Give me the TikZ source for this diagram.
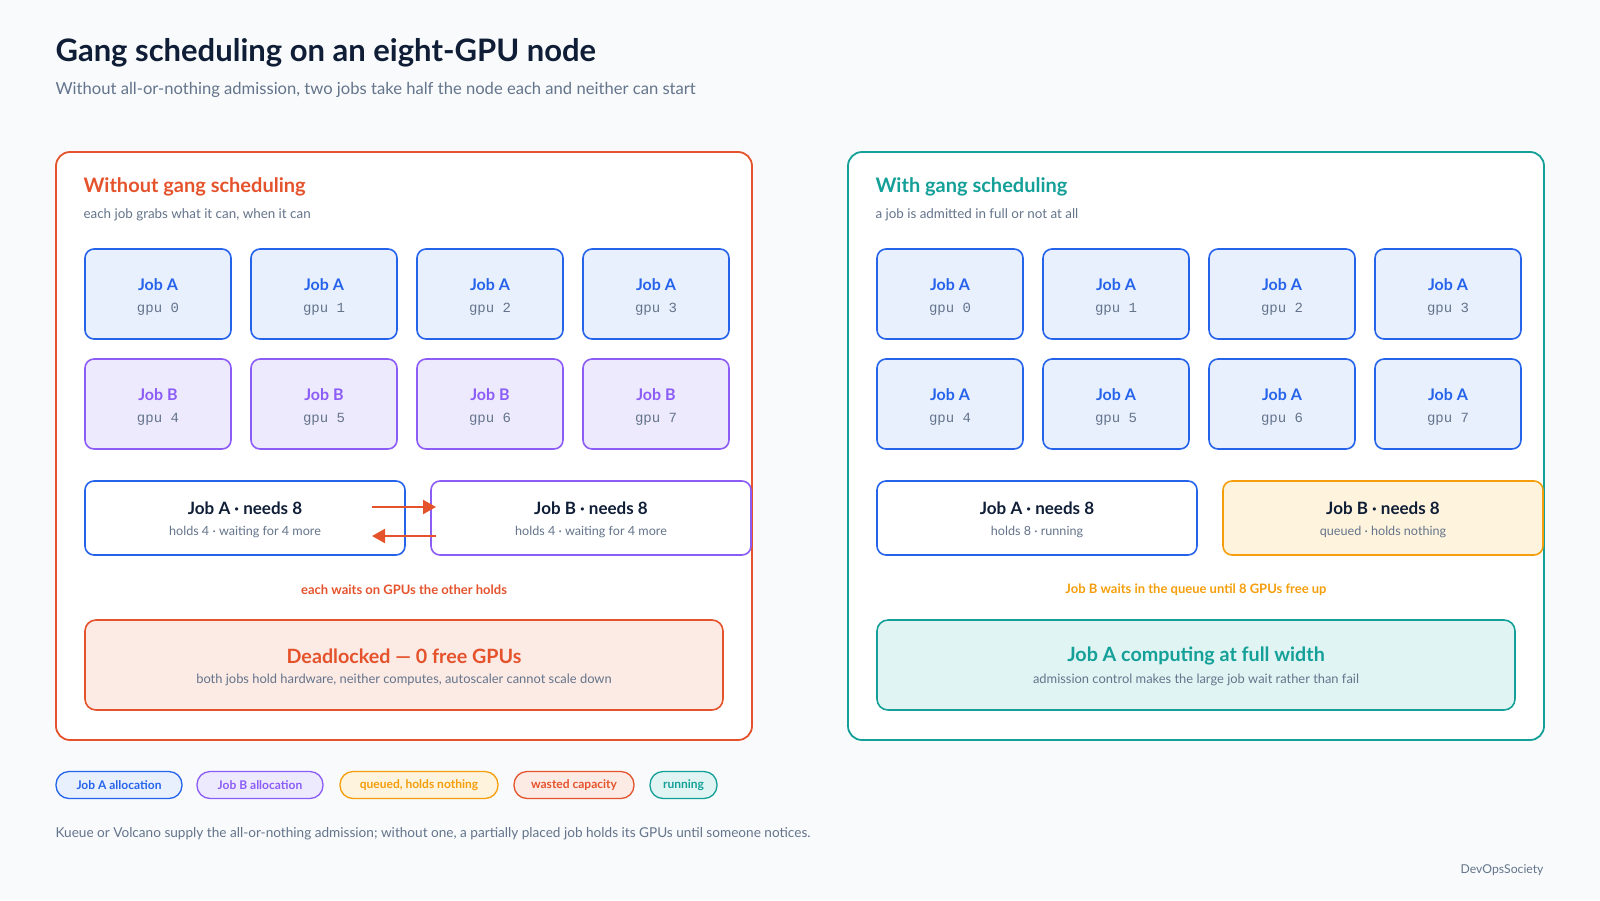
\documentclass[tikz,border=0pt]{standalone}
\usepackage{fontspec}
\setmainfont{Lato}
\newfontfamily\gpumono{Liberation Mono}
\usetikzlibrary{arrows.meta}

\definecolor{pagebg}{HTML}{F8FAFC}
\definecolor{ink}{HTML}{0F1E36}
\definecolor{muted}{HTML}{64748B}
\definecolor{redline}{HTML}{E5532D}
\definecolor{redfill}{HTML}{FCEAE4}
\definecolor{tealline}{HTML}{14A098}
\definecolor{tealfill}{HTML}{E0F5F3}
\definecolor{bluejob}{HTML}{2563EB}
\definecolor{bluefill}{HTML}{E8F0FE}
\definecolor{purplejob}{HTML}{8B5CF6}
\definecolor{purplefill}{HTML}{EEEAFD}
\definecolor{amber}{HTML}{F59E0B}
\definecolor{amberfill}{HTML}{FEF3DC}

\begin{document}
\begin{tikzpicture}[x=1pt, y=-1pt,
    panel/.style={draw=#1, line width=1.8pt, fill=white, rounded corners=14pt},
    gpubox/.style={draw=#1, line width=1.6pt, rounded corners=9pt, minimum width=146pt, minimum height=90pt, inner sep=0pt},
    needbox/.style={draw=#1, line width=1.6pt, rounded corners=9pt, minimum width=320pt, minimum height=74pt, inner sep=0pt},
    resultbox/.style={draw=#1, line width=1.6pt, rounded corners=11pt, minimum width=638pt, minimum height=90pt, inner sep=0pt},
    pill/.style={draw=#1, line width=1.3pt, rounded corners=13pt, minimum height=27pt, inner xsep=0pt, font=\fontsize{12}{14}\selectfont\bfseries, text=#1},
    deadarrow/.style={draw=redline, line width=2.2pt, -{Triangle[length=13pt,width=14pt]}},
]
\useasboundingbox (0,0) rectangle (1600,900);
\fill[pagebg] (0,0) rectangle (1600,900);

% heading
\node[anchor=west, text=ink, font=\fontsize{31}{35}\selectfont\bfseries] (title) at (52,53) {Gang scheduling on an eight-GPU node};
\node[anchor=west, text=muted, font=\fontsize{16.6}{20}\selectfont] (subtitle) at (52,90) {Without all-or-nothing admission, two jobs take half the node each and neither can start};

% the two panels
\draw[panel=redline] (56,152) rectangle (752,740);
\draw[panel=tealline] (848,152) rectangle (1544,740);

\node[anchor=west, text=redline, font=\fontsize{20}{24}\selectfont\bfseries] (lefthead) at (80,187) {Without gang scheduling};
\node[anchor=west, text=muted, font=\fontsize{13.4}{16}\selectfont] (leftsub) at (80,215) {each job grabs what it can, when it can};
\node[anchor=west, text=tealline, font=\fontsize{20}{24}\selectfont\bfseries] (righthead) at (872,187) {With gang scheduling};
\node[anchor=west, text=muted, font=\fontsize{13.4}{16}\selectfont] (rightsub) at (872,215) {a job is admitted in full or not at all};

% eight GPUs per panel
\foreach \i in {0,...,3} {
  \pgfmathsetmacro{\cx}{158+166*\i}
  \pgfmathsetmacro{\rx}{950+166*\i}
  \pgfmathtruncatemacro{\j}{\i+4}
  % left panel: A on top row, B on bottom row
  \node[gpubox=bluejob, fill=bluefill] (lgpu\i) at (\cx,294) {};
  \node[text=bluejob, font=\fontsize{16}{19}\selectfont\bfseries] at (\cx,285) {Job A};
  \node[text=muted, font=\fontsize{14}{16}\selectfont\gpumono] at (\cx,309) {gpu \i};
  \node[gpubox=purplejob, fill=purplefill] (lgpu\j) at (\cx,404) {};
  \node[text=purplejob, font=\fontsize{16}{19}\selectfont\bfseries] at (\cx,395) {Job B};
  \node[text=muted, font=\fontsize{14}{16}\selectfont\gpumono] at (\cx,419) {gpu \j};
  % right panel: all eight go to A
  \node[gpubox=bluejob, fill=bluefill] (rgpu\i) at (\rx,294) {};
  \node[text=bluejob, font=\fontsize{16}{19}\selectfont\bfseries] at (\rx,285) {Job A};
  \node[text=muted, font=\fontsize{14}{16}\selectfont\gpumono] at (\rx,309) {gpu \i};
  \node[gpubox=bluejob, fill=bluefill] (rgpu\j) at (\rx,404) {};
  \node[text=bluejob, font=\fontsize{16}{19}\selectfont\bfseries] at (\rx,395) {Job A};
  \node[text=muted, font=\fontsize{14}{16}\selectfont\gpumono] at (\rx,419) {gpu \j};
}

% what each job needs
\node[needbox=bluejob, fill=white] (lneedA) at (245,518) {};
\node[text=ink, font=\fontsize{17}{20}\selectfont\bfseries] at (245,508) {Job A · needs 8};
\node[text=muted, font=\fontsize{12.6}{15}\selectfont] at (245,532) {holds 4 · waiting for 4 more};
\node[needbox=purplejob, fill=white] (lneedB) at (591,518) {};
\node[text=ink, font=\fontsize{17}{20}\selectfont\bfseries] at (591,508) {Job B · needs 8};
\node[text=muted, font=\fontsize{12.6}{15}\selectfont] at (591,532) {holds 4 · waiting for 4 more};

\node[needbox=bluejob, fill=white] (rneedA) at (1037,518) {};
\node[text=ink, font=\fontsize{17}{20}\selectfont\bfseries] at (1037,508) {Job A · needs 8};
\node[text=muted, font=\fontsize{12.6}{15}\selectfont] at (1037,532) {holds 8 · running};
\node[needbox=amber, fill=amberfill] (rneedB) at (1383,518) {};
\node[text=ink, font=\fontsize{17}{20}\selectfont\bfseries] at (1383,508) {Job B · needs 8};
\node[text=muted, font=\fontsize{12.6}{15}\selectfont] at (1383,532) {queued · holds nothing};

% circular wait
\coordinate (waitAo) at (372,507);
\coordinate (waitBi) at (436,507);
\coordinate (waitBo) at (436,536);
\coordinate (waitAi) at (372,536);
\draw[deadarrow] (waitAo) -- (waitBi);
\draw[deadarrow] (waitBo) -- (waitAi);

\node[text=redline, font=\fontsize{13}{15}\selectfont\bfseries] (leftnote) at (404,590) {each waits on GPUs the other holds};
\node[text=amber, font=\fontsize{13}{15}\selectfont\bfseries] (rightnote) at (1196,590) {Job B waits in the queue until 8 GPUs free up};

% outcome
\node[resultbox=redline, fill=redfill] (deadlock) at (404,665) {};
\node[text=redline, font=\fontsize{19.7}{23}\selectfont\bfseries] at (404,656) {Deadlocked — 0 free GPUs};
\node[text=muted, font=\fontsize{12.9}{15}\selectfont] at (404,680) {both jobs hold hardware, neither computes, autoscaler cannot scale down};
\node[resultbox=tealline, fill=tealfill] (fullwidth) at (1196,665) {};
\node[text=tealline, font=\fontsize{19.7}{23}\selectfont\bfseries] at (1196,656) {Job A computing at full width};
\node[text=muted, font=\fontsize{12.9}{15}\selectfont] at (1196,680) {admission control makes the large job wait rather than fail};

% legend
\node[pill=bluejob, fill=bluefill, minimum width=126pt] (keyA) at (119,785) {Job A allocation};
\node[pill=purplejob, fill=purplefill, minimum width=126pt] (keyB) at (260,785) {Job B allocation};
\node[pill=amber, fill=amberfill, minimum width=158pt] (keyQ) at (419,785) {queued, holds nothing};
\node[pill=redline, fill=redfill, minimum width=120pt] (keyW) at (574,785) {wasted capacity};
\node[pill=tealline, fill=tealfill, minimum width=67pt] (keyR) at (683.5,785) {running};

\node[anchor=west, text=muted, font=\fontsize{13.6}{16}\selectfont] (footnote) at (52,834) {Kueue or Volcano supply the all-or-nothing admission; without one, a partially placed job holds its GPUs until someone notices.};
\node[anchor=east, text=muted, font=\fontsize{12.2}{14}\selectfont] (brand) at (1547,870) {DevOpsSociety};
\end{tikzpicture}
\end{document}
